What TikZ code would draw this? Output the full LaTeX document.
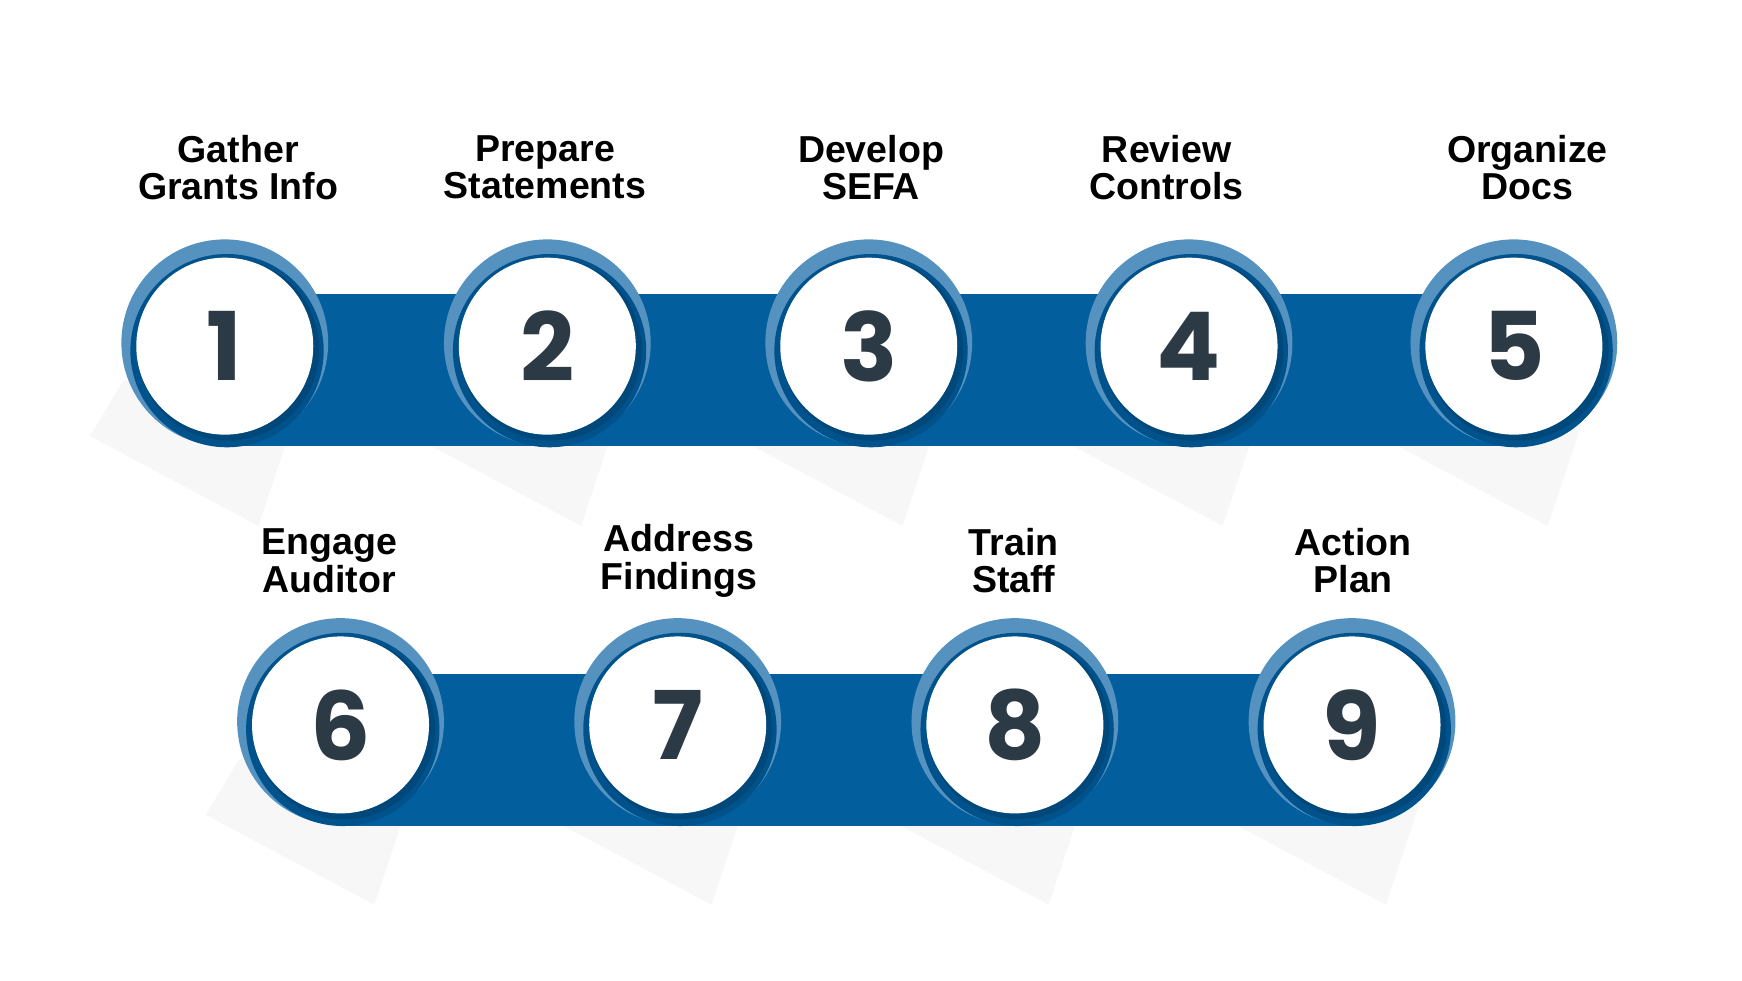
\documentclass[tikz,border=0pt]{standalone}
\usepackage{fontspec}
\setmainfont{Liberation Sans}
\newfontfamily\numfont{Poppins}
\usetikzlibrary{positioning}
\definecolor{bandblue}{HTML}{035E9E}
\definecolor{ringlight}{HTML}{5592BF}
\definecolor{ringdark}{HTML}{00528C}
\definecolor{numtext}{HTML}{2B3A45}
\tikzset{
  stepcircle/.style={circle, fill=white, minimum size=3.15cm, inner sep=0pt, text=numtext, font=\numfont\bfseries\fontsize{48}{48}\selectfont},
  steplabel/.style={align=center, font=\bfseries\fontsize{19}{19}\selectfont, text=black},
}
\begin{document}
\begin{tikzpicture}[x=0.02cm, y=-0.02cm]

\useasboundingbox (0,0) rectangle (1550,872);

% shadows
\foreach \x/\y in {200/308,487/308,773/308,1058/308,1347/308,303/645,603/645,903/645,1203/645}{
  \fill[black, opacity=0.03] (\x-90,\y+30) -- (\x+60,\y+70) -- (\x+30,\y+160) -- (\x-120,\y+80) -- cycle;
}

% bands
\fill[bandblue] (200,262) rectangle (1347,397);
\fill[bandblue] (303,600) rectangle (1203,735);

% rings
\foreach \x/\y in {200/308,487/308,773/308,1058/308,1347/308,303/645,603/645,903/645,1203/645}{
  \fill[ringlight] (\x,\y-3) circle (92);
  \fill[ringdark] (\x+2,\y+4) circle (86);
  \fill[black, opacity=0.12] (\x+3,\y+3) circle (81);
}

% numbered circles
\node[stepcircle] (c1) at (200,308) {1};
\node[stepcircle] (c2) at (487,308) {2};
\node[stepcircle] (c3) at (773,308) {3};
\node[stepcircle] (c4) at (1058,308) {4};
\node[stepcircle] (c5) at (1347,308) {5};
\node[stepcircle] (c6) at (303,645) {6};
\node[stepcircle] (c7) at (603,645) {7};
\node[stepcircle] (c8) at (903,645) {8};
\node[stepcircle] (c9) at (1203,645) {9};

% labels
\node[steplabel] (l1) at (212,149) {Gather\\Grants Info};
\node[steplabel] (l2) at (485,149) {Prepare\\Statements};
\node[steplabel] (l3) at (775,149) {Develop\\SEFA};
\node[steplabel] (l4) at (1038,149) {Review\\Controls};
\node[steplabel] (l5) at (1359,149) {Organize\\Docs};
\node[steplabel] (l6) at (293,499) {Engage\\Auditor};
\node[steplabel] (l7) at (604,499) {Address\\Findings};
\node[steplabel] (l8) at (902,499) {Train\\Staff};
\node[steplabel] (l9) at (1204,499) {Action\\Plan};

\end{tikzpicture}
\end{document}
